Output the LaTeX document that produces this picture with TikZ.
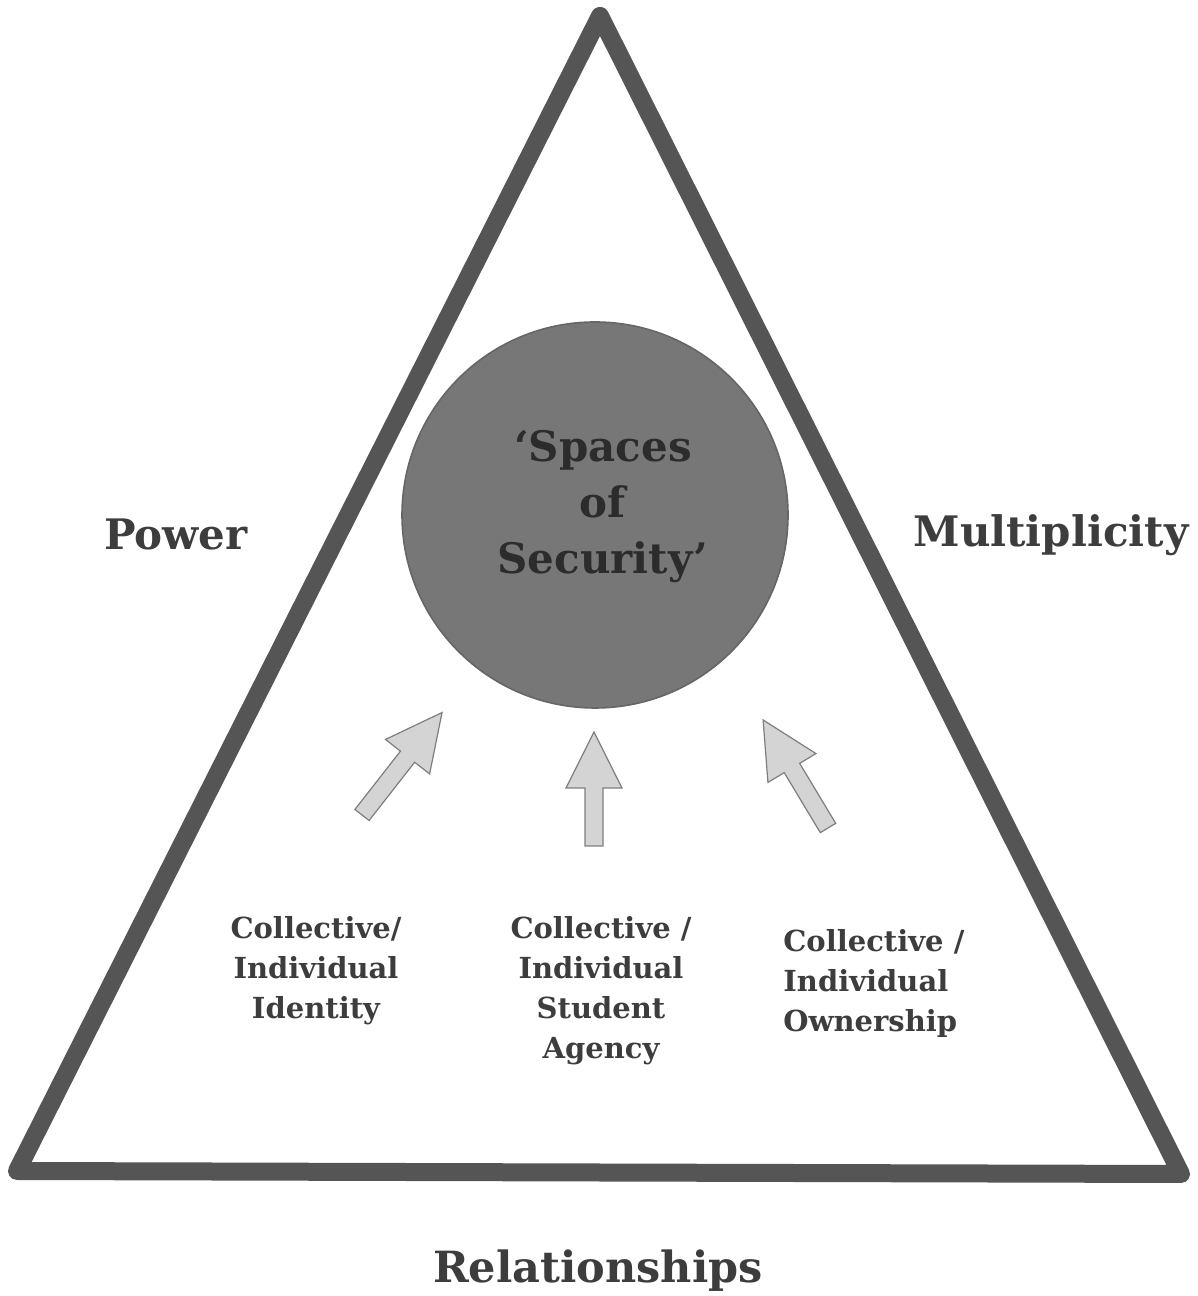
\documentclass[tikz,border=0pt]{standalone}
\usepackage{fontspec}
\setmainfont{DejaVu Serif}
\definecolor{framegray}{HTML}{555555}
\definecolor{ballgray}{HTML}{777777}
\definecolor{ballline}{HTML}{666666}
\definecolor{inkgray}{HTML}{3D3D3D}
\definecolor{balltextgray}{HTML}{2C2C2C}
\definecolor{arrowgray}{HTML}{D4D4D4}
\definecolor{arrowline}{HTML}{7E7E7E}

\begin{document}
\begin{tikzpicture}[x=0.5pt, y=0.5pt,
	  side/.style={font=\bfseries\fontsize{21}{25}\selectfont, text=inkgray, inner sep=0pt, anchor=base},
	  factor/.style={font=\bfseries\fontsize{14.5}{20}\selectfont, text=inkgray, inner sep=0pt, anchor=north, align=center},
	  uparrow/.style={fill=arrowgray, draw=arrowline, line width=0.6pt, line join=miter}]
	  \useasboundingbox (0,0) rectangle (1198,1296);
	  % frame
	  \draw[framegray, line width=9pt, line join=round] (600,1280) -- (17,125) -- (1181,122) -- cycle;
	  % ball in the middle
	  \node[circle, fill=ballgray, draw=ballline, line width=0.8pt, minimum size=193pt, inner sep=0pt] (ball) at (595,781) {};
	  \node[font=\bfseries\fontsize{21}{28}\selectfont, text=balltextgray, align=center, anchor=north, inner sep=0pt] (balltext) at (603,866) {‘Spaces\\of\\Security’};
	  % arrows pointing at the ball
	  \foreach \tx/\ty/\ang/\len in {362/481/52/130, 594/450/90/114, 828/468/121/126}
	    \filldraw[uparrow, shift={(\tx,\ty)}, rotate=\ang] (0,-9) -- ({\len-56},-9) -- ({\len-56},-28) -- (\len,0) -- ({\len-56},28) -- ({\len-56},9) -- (0,9) -- cycle;
	  % labels
	  \node[side] (power) at (176,746) {Power};
	  \node[side] (multi) at (1051,749) {Multiplicity};
	  \node[side, font=\bfseries\fontsize{21.5}{25}\selectfont] (relations) at (598,13) {Relationships};
	  \node[factor] (identity) at (316,380) {Collective/\\Individual\\Identity};
	  \node[factor] (agency) at (601,380) {Collective /\\Individual\\Student\\Agency};
	  \node[factor, align=left, anchor=north west] (ownership) at (783,367) {Collective /\\Individual\\Ownership};
	\end{tikzpicture}
\end{document}
